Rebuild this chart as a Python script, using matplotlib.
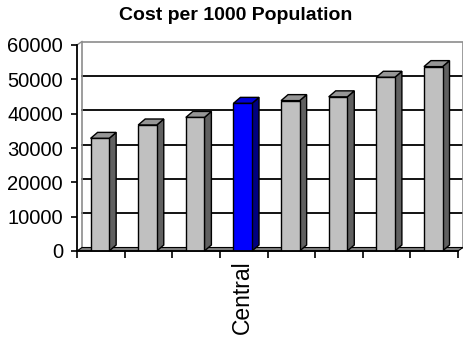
import matplotlib
matplotlib.use("Agg")
import matplotlib.pyplot as plt
from matplotlib.patches import Polygon

plt.rcParams['font.family'] = ['Liberation Sans', 'DejaVu Sans']

# Data
categories = ["", "", "", "Central", "", "", "", ""]
cost_per_1000 = [32800, 36700, 38900, 43000, 43800, 44900, 50600, 53700]
highlight = "Central"
y_ticks = [0, 10000, 20000, 30000, 40000, 50000, 60000]

W, H = 464, 347
fig = plt.figure(figsize=(W / 100, H / 100), dpi=100)
fig.patch.set_facecolor("white")

# Front plane of the plot, in pixels
left_px, bottom_px, right_px, top_px = 77, 251, 458, 45
ax = fig.add_axes([left_px / W, 1 - bottom_px / H,
                   (right_px - left_px) / W, (bottom_px - top_px) / H])
n = len(categories)
ymax = y_ticks[-1]
ax.set_xlim(0, n)
ax.set_ylim(0, ymax)

# pixel -> data conversion for the oblique depth offsets
ux = n / (right_px - left_px)
uy = ymax / (bottom_px - top_px)
wall_dx, wall_dy = 5 * ux, 3.5 * uy      # back wall offset
bar_dx, bar_dy = 7 * ux, 6 * uy          # bar depth

# Back wall outline and gridlines
for v in y_ticks[1:-1]:
    ax.plot([wall_dx, n + wall_dx], [v + wall_dy, v + wall_dy],
            color="black", lw=1.3, zorder=1, clip_on=False)
ax.plot([wall_dx, wall_dx, n + wall_dx, n + wall_dx],
        [wall_dy, ymax + wall_dy, ymax + wall_dy, wall_dy],
        color="#8c8c8c", lw=1.2, zorder=1, clip_on=False)
ax.plot([0, wall_dx], [ymax, ymax + wall_dy], color="#8c8c8c", lw=1.0,
        zorder=1, clip_on=False)

# Floor
floor = Polygon([(0, 0), (n, 0), (n + wall_dx, wall_dy), (wall_dx, wall_dy)],
                closed=True, facecolor="#808080", edgecolor="black", lw=0.8,
                zorder=1.5, clip_on=False)
ax.add_patch(floor)

# Bars: front face via ax.bar, side and top faces as polygons
bar_w = 0.39
centers = [i + 0.48 for i in range(n)]
for i, (x, v, cat) in enumerate(zip(centers, cost_per_1000, categories)):
    if cat == highlight:
        front, side, top = "#0000ff", "#000080", "#0000d8"
    else:
        front, side, top = "#c0c0c0", "#606060", "#969696"
    z = 2 + i * 0.01
    ax.bar([x], [v], width=bar_w, color=front, edgecolor="black",
           linewidth=1.0, zorder=z + 0.002)
    x0, x1 = x - bar_w / 2, x + bar_w / 2
    ax.add_patch(Polygon([(x1, 0), (x1 + bar_dx, bar_dy),
                          (x1 + bar_dx, v + bar_dy), (x1, v)],
                         closed=True, facecolor=side, edgecolor="black",
                         lw=1.0, zorder=z, clip_on=False))
    ax.add_patch(Polygon([(x0, v), (x1, v), (x1 + bar_dx, v + bar_dy),
                          (x0 + bar_dx, v + bar_dy)],
                         closed=True, facecolor=top, edgecolor="black",
                         lw=1.0, zorder=z + 0.001, clip_on=False))

# Axes styling
for s in ("top", "right"):
    ax.spines[s].set_visible(False)
for s in ("left", "bottom"):
    ax.spines[s].set_color("black")
    ax.spines[s].set_linewidth(1.3)
    ax.spines[s].set_zorder(5)
ax.set_facecolor("none")

ax.set_yticks(y_ticks)
ax.set_yticklabels([str(v) for v in y_ticks])
ax.tick_params(axis="y", direction="out", length=4, width=1.2, pad=6,
               labelsize=14.5, colors="black")

ax.set_xticks(range(n + 1))
ax.set_xticklabels([""] * (n + 1))
ax.tick_params(axis="x", which="major", direction="out", length=5, width=1.2)
ax.set_xticks(centers, minor=True)
ax.set_xticklabels(categories, minor=True, rotation=90, fontsize=16.5)
ax.tick_params(axis="x", which="minor", length=0, pad=7)

fig.text(236 / W, 1 - 15 / H, "Cost per 1000 Population", ha="center",
         va="center", fontsize=14, fontweight="bold")

fig.savefig("out.png", dpi=100)
